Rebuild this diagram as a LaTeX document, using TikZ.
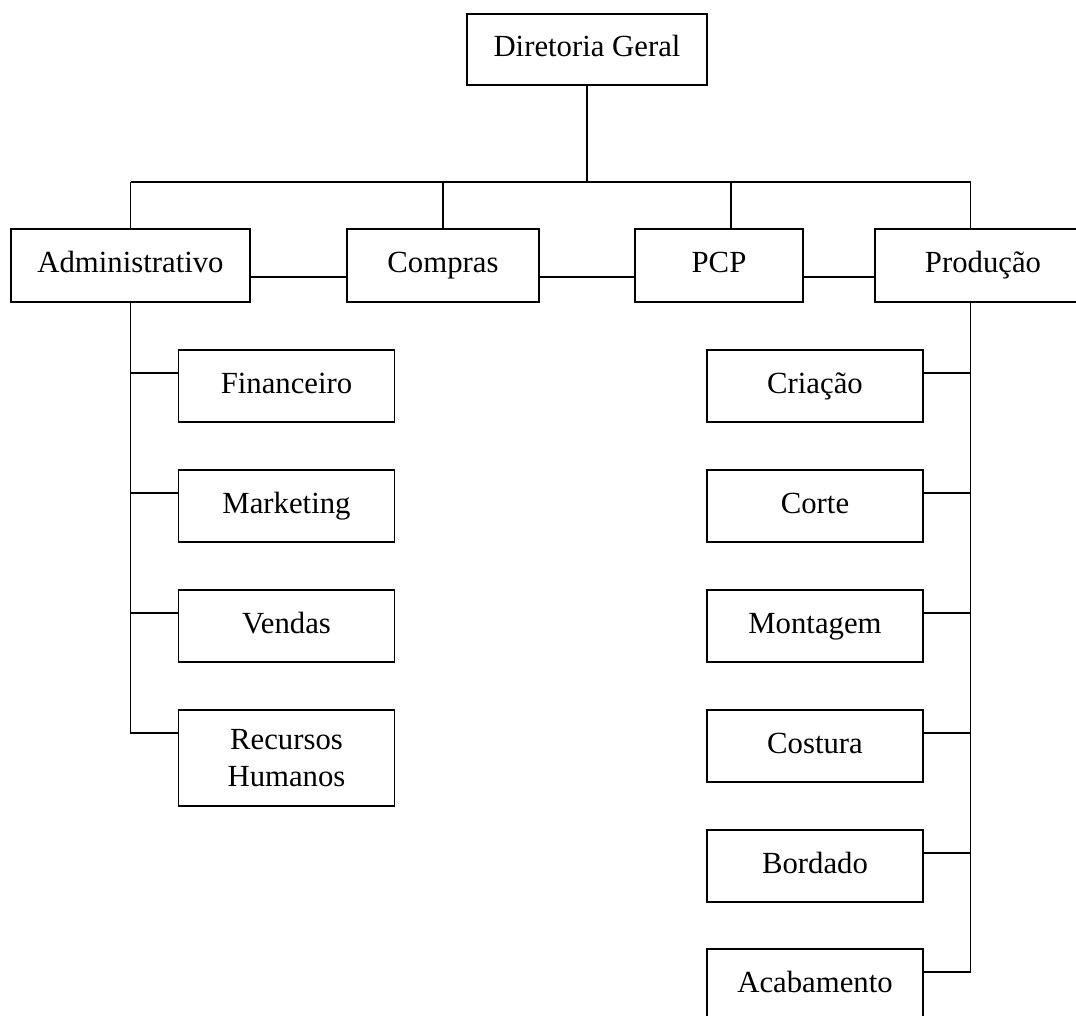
\documentclass[tikz,border=0pt]{standalone}
\usepackage{fontspec}
\setmainfont{Liberation Serif}
\begin{document}
\begin{tikzpicture}[x=0.02cm, y=-0.02cm,
    font=\fontsize{17.5}{21}\selectfont,
    box/.style={draw, line width=1.1pt, inner sep=0pt, align=center},
    line1/.style={text height=12.5pt, text depth=4pt},
    unit/.style={box, minimum width=4.32cm, minimum height=1.44cm},
    link/.style={line width=0.9pt}]
  \useasboundingbox (0,0) rectangle (1076,1016);
  % top and first level
  \node[box, line1, minimum width=4.8cm, minimum height=1.42cm] (dir) at (587,49.5) {Diretoria Geral};
  \node[box, line1, minimum width=4.78cm, minimum height=1.46cm] (adm) at (130.5,265.5) {Administrativo};
  \node[box, line1, minimum width=3.84cm, minimum height=1.46cm] (com) at (443,265.5) {Compras};
  \node[box, line1, minimum width=3.36cm, minimum height=1.46cm] (pcp) at (719,265.5) {PCP};
  \node[box, line1, minimum width=4.32cm, minimum height=1.46cm] (pro) at (983,265.5) {Produção};
  % left column
  \node[unit, line1] (fin) at (286.5,386) {Financeiro};
  \node[unit, line1] (mkt) at (286.5,506) {Marketing};
  \node[unit, line1] (ven) at (286.5,626) {Vendas};
  \node[unit, minimum height=1.92cm] (rh) at (286.5,758) {Recursos\\Humanos};
  % right column
  \node[unit, line1] (cri) at (815,386) {Criação};
  \node[unit, line1] (cor) at (815,506) {Corte};
  \node[unit, line1] (mon) at (815,626) {Montagem};
  \node[unit, line1] (cos) at (815,746) {Costura};
  \node[unit, line1] (bor) at (815,866) {Bordado};
  \node[unit, line1] (aca) at (815,985) {Acabamento};
  % bus
  \coordinate (busL) at (130.5,182);
  \coordinate (busR) at (970.5,182);
  \coordinate (pcpT) at (731,182);
  \draw[link] (busL) -- (busR);
  \draw[link] (dir) -- (dir |- busL);
  \draw[link] (busL) -- (adm);
  \draw[link] (com |- busL) -- (com);
  \draw[link] (pcpT) -- (pcpT |- pcp.north);
  \draw[link] (busR) -- (busR |- pro.north);
  % links between first level
  \draw[link] ([yshift=-0.23cm]adm.east) -- ([yshift=-0.23cm]com.west);
  \draw[link] ([yshift=-0.23cm]com.east) -- ([yshift=-0.23cm]pcp.west);
  \draw[link] ([yshift=-0.23cm]pcp.east) -- ([yshift=-0.23cm]pro.west);
  % branches
  \foreach \n in {fin,mkt,ven,rh}
    \draw[link] (adm.south) |- ([yshift=-0.48cm]\n.north west);
  \foreach \n in {cri,cor,mon,cos,bor,aca}
    \draw[link] (busR |- pro.south) |- ([yshift=-0.48cm]\n.north east);
\end{tikzpicture}
\end{document}
